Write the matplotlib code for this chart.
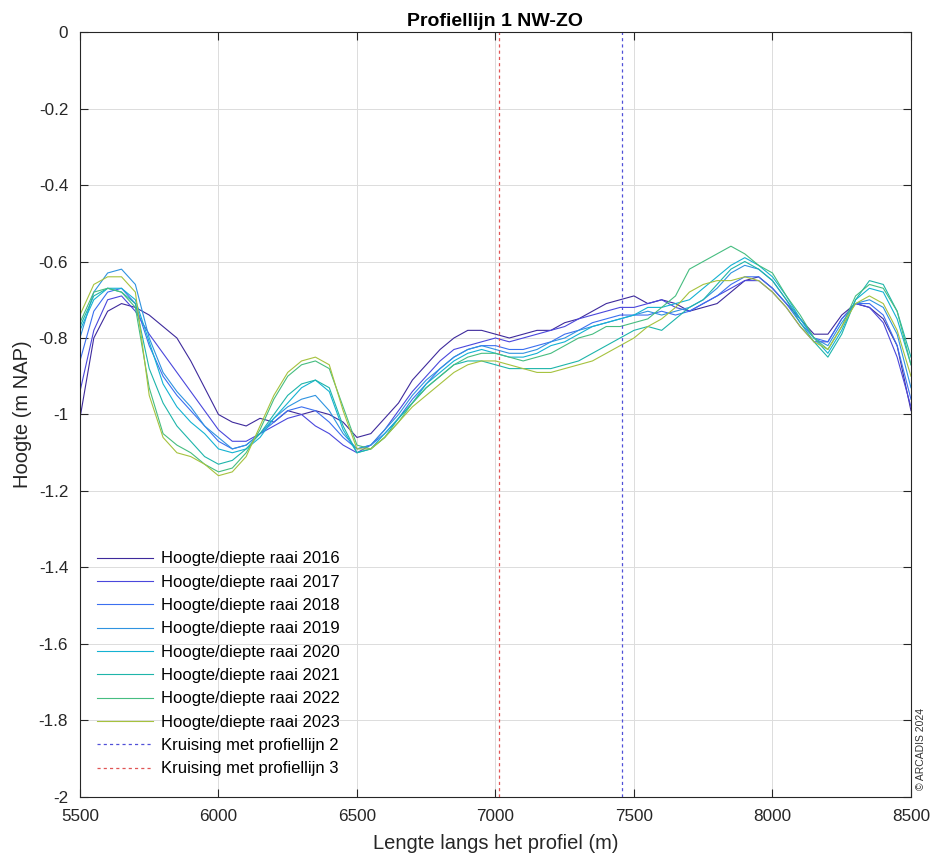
import numpy as np
import matplotlib
matplotlib.use("Agg")
import matplotlib.pyplot as plt

plt.rcParams['font.family'] = ['Liberation Sans', 'DejaVu Sans']

# afstand langs het profiel (m), elke 50 m
afstand = np.arange(5500, 8501, 50)

jaren = ['2016', '2017', '2018', '2019', '2020', '2021', '2022', '2023']

hoogte_2016 = [-1.01, -0.80, -0.73, -0.71, -0.72, -0.74, -0.77, -0.80, -0.86, -0.93,
               -1.00, -1.02, -1.03, -1.01, -1.02, -0.99, -1.00, -0.99, -1.00, -1.02,
               -1.06, -1.05, -1.01, -0.97, -0.91, -0.87, -0.83, -0.80, -0.78, -0.78,
               -0.79, -0.80, -0.79, -0.78, -0.78, -0.76, -0.75, -0.73, -0.71, -0.70,
               -0.69, -0.71, -0.70, -0.71, -0.73, -0.72, -0.71, -0.68, -0.65, -0.64,
               -0.67, -0.71, -0.75, -0.79, -0.79, -0.74, -0.71, -0.72, -0.75, -0.82,
               -0.99]
hoogte_2017 = [-0.94, -0.78, -0.70, -0.69, -0.73, -0.79, -0.84, -0.89, -0.94, -0.99,
               -1.04, -1.07, -1.07, -1.05, -1.03, -1.01, -1.00, -1.03, -1.05, -1.08,
               -1.10, -1.08, -1.04, -0.99, -0.94, -0.90, -0.86, -0.83, -0.82, -0.81,
               -0.80, -0.81, -0.80, -0.79, -0.78, -0.77, -0.75, -0.74, -0.73, -0.72,
               -0.72, -0.71, -0.70, -0.72, -0.73, -0.71, -0.69, -0.67, -0.65, -0.65,
               -0.68, -0.72, -0.77, -0.81, -0.81, -0.75, -0.71, -0.72, -0.76, -0.85,
               -0.98]
hoogte_2018 = [-0.86, -0.73, -0.68, -0.67, -0.71, -0.82, -0.90, -0.95, -0.99, -1.03,
               -1.07, -1.09, -1.08, -1.05, -1.02, -0.99, -0.98, -0.99, -1.02, -1.06,
               -1.09, -1.08, -1.05, -1.01, -0.96, -0.92, -0.88, -0.85, -0.83, -0.82,
               -0.82, -0.83, -0.83, -0.82, -0.81, -0.79, -0.78, -0.76, -0.75, -0.74,
               -0.74, -0.74, -0.73, -0.74, -0.73, -0.71, -0.69, -0.66, -0.64, -0.64,
               -0.67, -0.71, -0.76, -0.80, -0.81, -0.75, -0.71, -0.71, -0.74, -0.82,
               -0.96]
hoogte_2019 = [-0.80, -0.68, -0.63, -0.62, -0.66, -0.80, -0.89, -0.94, -0.98, -1.03,
               -1.06, -1.09, -1.08, -1.05, -1.01, -0.98, -0.96, -0.95, -0.99, -1.05,
               -1.09, -1.08, -1.04, -1.00, -0.95, -0.91, -0.88, -0.85, -0.83, -0.82,
               -0.83, -0.84, -0.84, -0.83, -0.81, -0.80, -0.78, -0.77, -0.76, -0.75,
               -0.74, -0.73, -0.74, -0.73, -0.72, -0.70, -0.67, -0.63, -0.61, -0.62,
               -0.65, -0.70, -0.75, -0.80, -0.82, -0.76, -0.71, -0.70, -0.72, -0.79,
               -0.93]
hoogte_2020 = [-0.78, -0.70, -0.67, -0.67, -0.70, -0.81, -0.92, -0.98, -1.02, -1.05,
               -1.09, -1.10, -1.09, -1.06, -1.01, -0.97, -0.93, -0.91, -0.94, -1.04,
               -1.10, -1.09, -1.05, -1.01, -0.97, -0.92, -0.89, -0.86, -0.84, -0.83,
               -0.84, -0.85, -0.85, -0.84, -0.82, -0.81, -0.79, -0.77, -0.76, -0.75,
               -0.74, -0.72, -0.72, -0.71, -0.70, -0.67, -0.64, -0.61, -0.59, -0.61,
               -0.64, -0.69, -0.75, -0.80, -0.84, -0.78, -0.70, -0.67, -0.68, -0.75,
               -0.87]
hoogte_2021 = [-0.77, -0.69, -0.67, -0.68, -0.71, -0.88, -0.97, -1.03, -1.07, -1.11,
               -1.13, -1.12, -1.09, -1.05, -1.00, -0.95, -0.92, -0.91, -0.93, -1.03,
               -1.10, -1.09, -1.06, -1.01, -0.97, -0.93, -0.90, -0.87, -0.86, -0.86,
               -0.87, -0.88, -0.88, -0.88, -0.88, -0.87, -0.86, -0.84, -0.82, -0.80,
               -0.78, -0.77, -0.78, -0.75, -0.72, -0.70, -0.66, -0.62, -0.60, -0.62,
               -0.65, -0.70, -0.76, -0.81, -0.85, -0.79, -0.70, -0.65, -0.66, -0.73,
               -0.85]
hoogte_2022 = [-0.76, -0.68, -0.67, -0.68, -0.72, -0.93, -1.05, -1.08, -1.10, -1.13,
               -1.15, -1.14, -1.10, -1.04, -0.96, -0.90, -0.87, -0.86, -0.88, -0.98,
               -1.08, -1.09, -1.06, -1.02, -0.97, -0.93, -0.90, -0.87, -0.85, -0.84,
               -0.84, -0.85, -0.86, -0.85, -0.84, -0.82, -0.80, -0.79, -0.77, -0.77,
               -0.76, -0.75, -0.72, -0.69, -0.62, -0.60, -0.58, -0.56, -0.58, -0.61,
               -0.63, -0.69, -0.74, -0.80, -0.83, -0.77, -0.69, -0.66, -0.67, -0.73,
               -0.87]
hoogte_2023 = [-0.74, -0.66, -0.64, -0.64, -0.68, -0.95, -1.06, -1.10, -1.11, -1.13,
               -1.16, -1.15, -1.11, -1.03, -0.95, -0.89, -0.86, -0.85, -0.87, -0.99,
               -1.09, -1.09, -1.06, -1.02, -0.98, -0.95, -0.92, -0.89, -0.87, -0.86,
               -0.86, -0.87, -0.88, -0.89, -0.89, -0.88, -0.87, -0.86, -0.84, -0.82,
               -0.80, -0.77, -0.75, -0.72, -0.68, -0.66, -0.65, -0.65, -0.64, -0.65,
               -0.68, -0.72, -0.77, -0.81, -0.83, -0.77, -0.71, -0.69, -0.71, -0.78,
               -0.90]

# kruisingen met de andere profiellijnen (m)
kruising_2 = 7455
kruising_3 = 7014

kleuren = ['#3e2a9c', '#4a47dc', '#3b6ff0', '#2f93e0', '#14b2d2',
           '#1eb5aa', '#46bd80', '#a6c23e']

reeksen = [hoogte_2016, hoogte_2017, hoogte_2018, hoogte_2019,
           hoogte_2020, hoogte_2021, hoogte_2022, hoogte_2023]

fig = plt.figure(figsize=(9.33, 8.58), dpi=100)
ax = fig.add_axes([0.0857, 0.0711, 0.8907, 0.8916])

for jaar, hoogte, kleur in zip(jaren, reeksen, kleuren):
    ax.plot(afstand, hoogte, color=kleur, lw=0.8,
            label='Hoogte/diepte raai ' + jaar)

ax.axvline(kruising_2, color='#5050d8', lw=0.9, ls=(0, (2.5, 2.5)),
           label='Kruising met profiellijn 2')
ax.axvline(kruising_3, color='#e05555', lw=0.9, ls=(0, (2.5, 2.5)),
           label='Kruising met profiellijn 3')

ax.set_xlim(5500, 8500)
ax.set_ylim(-2, 0)
ax.set_xticks([5500, 6000, 6500, 7000, 7500, 8000, 8500])
ax.set_yticks(np.arange(-2, 0.01, 0.2))
ax.set_yticklabels(['-2', '-1.8', '-1.6', '-1.4', '-1.2', '-1', '-0.8',
                    '-0.6', '-0.4', '-0.2', '0'])
ax.tick_params(direction='in', top=True, right=True, length=5.5, width=0.8,
               labelsize=12.3, colors='#262626', pad=8.5)
for s in ax.spines.values():
    s.set_color('#262626')
    s.set_linewidth(0.8)
ax.grid(True, color='#dcdcdc', lw=0.7)
ax.set_axisbelow(True)

ax.set_xlabel('Lengte langs het profiel (m)', fontsize=14.5, color='#262626', labelpad=7)
ax.set_ylabel('Hoogte (m NAP)', fontsize=14.5, color='#262626', labelpad=5)
ax.set_title('Profiellijn 1 NW-ZO', fontsize=14, fontweight='bold', pad=4)

ax.legend(loc='lower left', bbox_to_anchor=(0.02, 0.027), frameon=False,
          fontsize=12, handlelength=3.4, handletextpad=0.45,
          labelspacing=0.5, borderpad=0, borderaxespad=0)

fig.text(0.987, 0.079, '\u00a9 ARCADIS 2024', rotation=90, fontsize=7.5,
         ha='center', va='bottom', color='#333333')

fig.savefig('out.png', dpi=100)
